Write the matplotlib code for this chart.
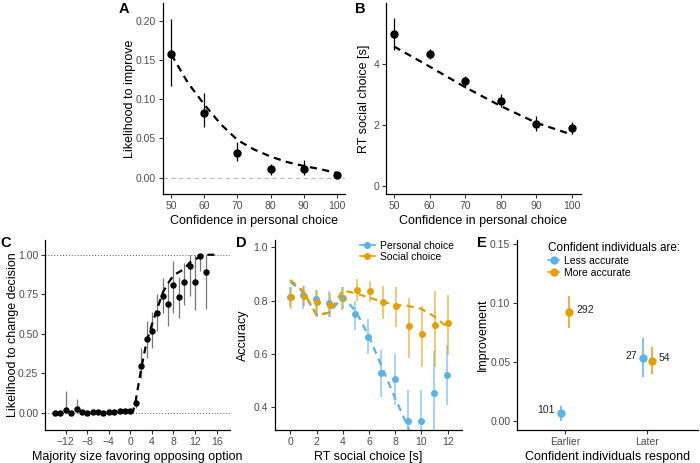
import matplotlib.pyplot as plt
from matplotlib.lines import Line2D
from matplotlib.ticker import FormatStrFormatter

plt.rcParams['font.family'] = ['Liberation Sans', 'DejaVu Sans']

BLUE = "#56B4E9"
ORANGE = "#E69F00"
TICK = "#4D4D4D"

# ---- panel A: likelihood to improve vs confidence
conf = [50, 60, 70, 80, 90, 100]
improve = [0.157, 0.083, 0.031, 0.011, 0.011, 0.003]
improve_lo = [0.117, 0.064, 0.021, 0.004, 0.004, 0.001]
improve_hi = [0.202, 0.108, 0.045, 0.018, 0.022, 0.005]
fit_a_x = [50, 55, 60, 65, 70, 75, 80, 85, 90, 95, 100]
fit_a_y = [0.157, 0.121, 0.093, 0.068, 0.048, 0.036, 0.027, 0.020, 0.015, 0.011, 0.006]

# ---- panel B: RT social choice vs confidence
rt = [4.98, 4.32, 3.42, 2.79, 2.02, 1.90]
rt_lo = [4.44, 4.16, 3.20, 2.57, 1.78, 1.69]
rt_hi = [5.50, 4.49, 3.60, 3.00, 2.28, 2.10]
fit_b_x = [50, 60, 70, 80, 90, 100]
fit_b_y = [4.57, 3.91, 3.23, 2.61, 2.06, 1.67]

# ---- panel C: likelihood to change decision vs majority size
majority = list(range(-14, 15))
change = [0.0, 0.0, 0.02, 0.0, 0.025, 0.005, 0.0, 0.005, 0.005, 0.003, 0.008, 0.008,
          0.013, 0.015, 0.012, 0.065, 0.30, 0.47, 0.52, 0.63, 0.74, 0.69, 0.81, 0.73,
          0.83, 0.93, 0.83, 0.99, 0.89]
change_lo = [0.0, 0.0, 0.0, 0.0, 0.0, 0.005, 0.0, 0.005, 0.005, 0.003, 0.008, 0.008,
             0.013, 0.015, 0.012, 0.03, 0.22, 0.35, 0.41, 0.52, 0.63, 0.55, 0.63, 0.60,
             0.68, 0.74, 0.65, 0.90, 0.66]
change_hi = [0.0, 0.0, 0.14, 0.0, 0.09, 0.005, 0.0, 0.005, 0.005, 0.003, 0.008, 0.008,
             0.013, 0.015, 0.012, 0.08, 0.41, 0.58, 0.64, 0.75, 0.85, 0.83, 0.96, 0.86,
             0.95, 1.0, 1.0, 1.0, 1.0]
fit_c_x = [0, 0.5, 1, 1.5, 2, 3, 4, 5, 6, 7, 8, 9, 10, 11, 12, 13, 14, 16]
fit_c_y = [0.0, 0.01, 0.08, 0.18, 0.28, 0.45, 0.56, 0.66, 0.76, 0.82, 0.87, 0.89,
           0.91, 0.95, 0.97, 0.99, 1.0, 1.0]

# ---- panel D: accuracy vs RT social choice
rt_bins = list(range(0, 13))
pers_acc = [0.815, 0.82, 0.805, 0.79, 0.81, 0.75, 0.665, 0.53, 0.505, 0.35, 0.35, 0.455, 0.52]
pers_lo = [0.775, 0.77, 0.75, 0.74, 0.765, 0.69, 0.60, 0.44, 0.41, 0.30, 0.30, 0.30, 0.41]
pers_hi = [0.85, 0.855, 0.84, 0.835, 0.85, 0.80, 0.73, 0.615, 0.60, 0.465, 0.465, 0.61, 0.635]
soc_acc = [0.812, 0.818, 0.795, 0.785, 0.81, 0.84, 0.835, 0.795, 0.778, 0.705, 0.673, 0.71, 0.715]
soc_lo = [0.77, 0.78, 0.74, 0.74, 0.77, 0.80, 0.795, 0.73, 0.70, 0.585, 0.55, 0.55, 0.595]
soc_hi = [0.85, 0.855, 0.84, 0.83, 0.85, 0.88, 0.875, 0.855, 0.85, 0.81, 0.78, 0.835, 0.82]
fit_pers_x = [0, 1, 2, 3, 4, 4.5, 5, 6, 7, 8, 8.8, 9.2]
fit_pers_y = [0.87, 0.83, 0.745, 0.755, 0.815, 0.787, 0.76, 0.665, 0.55, 0.434, 0.346, 0.30]
fit_soc_x = [0, 1, 2, 3, 3.5, 4, 5, 6, 7, 8, 9, 10, 11, 12]
fit_soc_y = [0.8775, 0.834, 0.746, 0.755, 0.80, 0.8375, 0.8275, 0.811, 0.796, 0.784,
             0.78, 0.769, 0.74, 0.70]

# ---- panel E: improvement
respond = ["Earlier", "Later"]
less_imp = [0.007, 0.053]
less_lo = [0.0, 0.037]
less_hi = [0.013, 0.070]
less_n = ["101", "27"]
more_imp = [0.092, 0.051]
more_lo = [0.079, 0.040]
more_hi = [0.106, 0.063]
more_n = ["292", "54"]

fig = plt.figure(figsize=(7, 4.63), dpi=100)


def style(ax, ylab_x, xlab_y=-0.11):
    for s in ["top", "right"]:
        ax.spines[s].set_visible(False)
    for s in ["left", "bottom"]:
        ax.spines[s].set_linewidth(0.9)
    ax.tick_params(labelsize=7.5, labelcolor=TICK, color="#333333", length=3, width=0.8, pad=2)
    ax.yaxis.set_label_coords(ylab_x, 0.5)
    ax.xaxis.set_label_coords(0.5, xlab_y)


def yerr(v, lo, hi):
    return [[a - b for a, b in zip(v, lo)], [c - a for a, c in zip(v, hi)]]


dash = (0, (3.2, 2.4))
LAB = 9

# A
axA = fig.add_axes([0.2329, 0.5803, 0.26, 0.4132])
axA.axhline(0, color="#BBBBBB", lw=0.8, ls=(0, (4, 3)), zorder=0)
axA.errorbar(conf, improve, yerr=yerr(improve, improve_lo, improve_hi), fmt="o",
             color="black", ms=5, elinewidth=0.9, zorder=3)
axA.plot(fit_a_x, fit_a_y, color="black", lw=1.6, ls=dash, zorder=4)
axA.set_xlim(47.5, 102.5)
axA.set_ylim(-0.0211, 0.2225)
axA.set_xticks([50, 60, 70, 80, 90, 100])
axA.set_yticks([0, 0.05, 0.10, 0.15, 0.20])
axA.yaxis.set_major_formatter(FormatStrFormatter("%.2f"))
axA.set_xlabel("Confidence in personal choice", fontsize=LAB)
axA.set_ylabel("Likelihood to improve", fontsize=LAB)
style(axA, -0.148)

# B
axB = fig.add_axes([0.5514, 0.5803, 0.2786, 0.4132])
axB.errorbar(conf, rt, yerr=yerr(rt, rt_lo, rt_hi), fmt="o",
             color="black", ms=5, elinewidth=0.9, zorder=3)
axB.plot(fit_b_x, fit_b_y, color="black", lw=1.6, ls=dash, zorder=4)
axB.set_xlim(47.75, 102.5)
axB.set_ylim(-0.29, 6.0)
axB.set_xticks([50, 60, 70, 80, 90, 100])
axB.set_yticks([0, 2, 4])
axB.set_xlabel("Confidence in personal choice", fontsize=LAB)
axB.set_ylabel("RT social choice [s]", fontsize=LAB)
style(axB, -0.082)

# C
axC = fig.add_axes([0.0647, 0.0713, 0.2639, 0.4103])
axC.axhline(0, color="#555555", lw=0.7, ls=(0, (1, 2)), zorder=0)
axC.axhline(1, color="#555555", lw=0.7, ls=(0, (1, 2)), zorder=0)
axC.errorbar(majority, change, yerr=yerr(change, change_lo, change_hi), fmt="none",
             ecolor="#777777", elinewidth=0.9, zorder=2)
axC.plot(majority, change, "o", color="black", ms=3.6, zorder=3)
axC.plot(fit_c_x, fit_c_y, color="black", lw=1.6, ls=dash, zorder=4)
axC.set_xlim(-15.8, 18.5)
axC.set_ylim(-0.107, 1.093)
axC.set_xticks([-12, -8, -4, 0, 4, 8, 12, 16])
axC.set_xticklabels(["\u221212", "\u22128", "\u22124", "0", "4", "8", "12", "16"])
axC.set_yticks([0, 0.25, 0.5, 0.75, 1.0])
axC.yaxis.set_major_formatter(FormatStrFormatter("%.2f"))
axC.set_xlabel("Majority size favoring opposing option", fontsize=LAB)
axC.set_ylabel("Likelihood to change decision", fontsize=LAB)
style(axC, -0.141)

# D
axD = fig.add_axes([0.3929, 0.0713, 0.2671, 0.4103])
xp = [x - 0.05 for x in rt_bins]
xs = [x + 0.05 for x in rt_bins]
axD.errorbar(xp, pers_acc, yerr=yerr(pers_acc, pers_lo, pers_hi), fmt="none",
             ecolor=BLUE, alpha=0.65, elinewidth=1.2, zorder=2)
axD.errorbar(xs, soc_acc, yerr=yerr(soc_acc, soc_lo, soc_hi), fmt="none",
             ecolor=ORANGE, alpha=0.65, elinewidth=1.2, zorder=2)
axD.plot(xp, pers_acc, "o", color=BLUE, ms=4, zorder=3)
axD.plot(xs, soc_acc, "o", color=ORANGE, ms=4, zorder=3)
axD.plot(fit_pers_x, fit_pers_y, color=BLUE, lw=1.6, ls=dash, zorder=4)
axD.plot(fit_soc_x, fit_soc_y, color=ORANGE, lw=1.6, ls=dash, zorder=5)
axD.set_xlim(-1.17, 13.1)
axD.set_ylim(0.315, 1.027)
axD.set_xticks([0, 2, 4, 6, 8, 10, 12])
axD.set_yticks([0.4, 0.6, 0.8, 1.0])
axD.yaxis.set_major_formatter(FormatStrFormatter("%.1f"))
axD.set_xlabel("RT social choice [s]", fontsize=LAB)
axD.set_ylabel("Accuracy", fontsize=LAB)
style(axD, -0.139)
handles = [Line2D([], [], color=BLUE, marker="o", ms=4, lw=1.2),
           Line2D([], [], color=ORANGE, marker="o", ms=4, lw=1.2)]
axD.legend(handles, ["Personal choice", "Social choice"], loc="upper right",
           bbox_to_anchor=(0.99, 1.03), frameon=False, fontsize=7.5, handlelength=1.4,
           handletextpad=0.5, labelspacing=0.15, borderaxespad=0.2)

# E
axE = fig.add_axes([0.739, 0.0713, 0.2586, 0.4103])
pos = [1, 2]
xl = [p - 0.05 for p in pos]
xm = [p + 0.05 for p in pos]
axE.errorbar(xl, less_imp, yerr=yerr(less_imp, less_lo, less_hi), fmt="o", color=BLUE,
             ms=5, elinewidth=1.1, zorder=3)
axE.errorbar(xm, more_imp, yerr=yerr(more_imp, more_lo, more_hi), fmt="o", color=ORANGE,
             ms=5, elinewidth=1.1, zorder=3)
for x, y, t in zip(xl, less_imp, less_n):
    axE.text(x - 0.08, y + 0.002, t, ha="right", va="center", fontsize=7.5, color="#222222")
for x, y, t in zip(xm, more_imp, more_n):
    axE.text(x + 0.08, y + 0.002, t, ha="left", va="center", fontsize=7.5, color="#222222")
axE.set_xlim(0.415, 2.62)
axE.set_ylim(-0.0075, 0.153)
axE.set_xticks(pos)
axE.set_xticklabels(respond)
axE.set_yticks([0, 0.05, 0.10, 0.15])
axE.yaxis.set_major_formatter(FormatStrFormatter("%.2f"))
axE.set_xlabel("Confident individuals respond", fontsize=LAB)
axE.set_ylabel("Improvement", fontsize=LAB)
style(axE, -0.158)
handlesE = [Line2D([], [], color=BLUE, marker="o", ms=5, lw=1.1),
            Line2D([], [], color=ORANGE, marker="o", ms=5, lw=1.1)]
axE.legend(handlesE, ["Less accurate", "More accurate"], title="Confident individuals are:",
           loc="upper left", bbox_to_anchor=(0.12, 1.04), frameon=False, fontsize=7.5,
           title_fontsize=8.5, handlelength=1.0, handletextpad=0.5, labelspacing=0.2,
           alignment="left")

# panel letters
for lbl, x, y in [("A", 0.170, 0.996), ("B", 0.507, 0.996), ("C", 0.0, 0.49),
                  ("D", 0.337, 0.49), ("E", 0.681, 0.49)]:
    fig.text(x, y, lbl, fontsize=10.5, fontweight="bold", va="top", ha="left")

fig.savefig("out.png", dpi=100)
